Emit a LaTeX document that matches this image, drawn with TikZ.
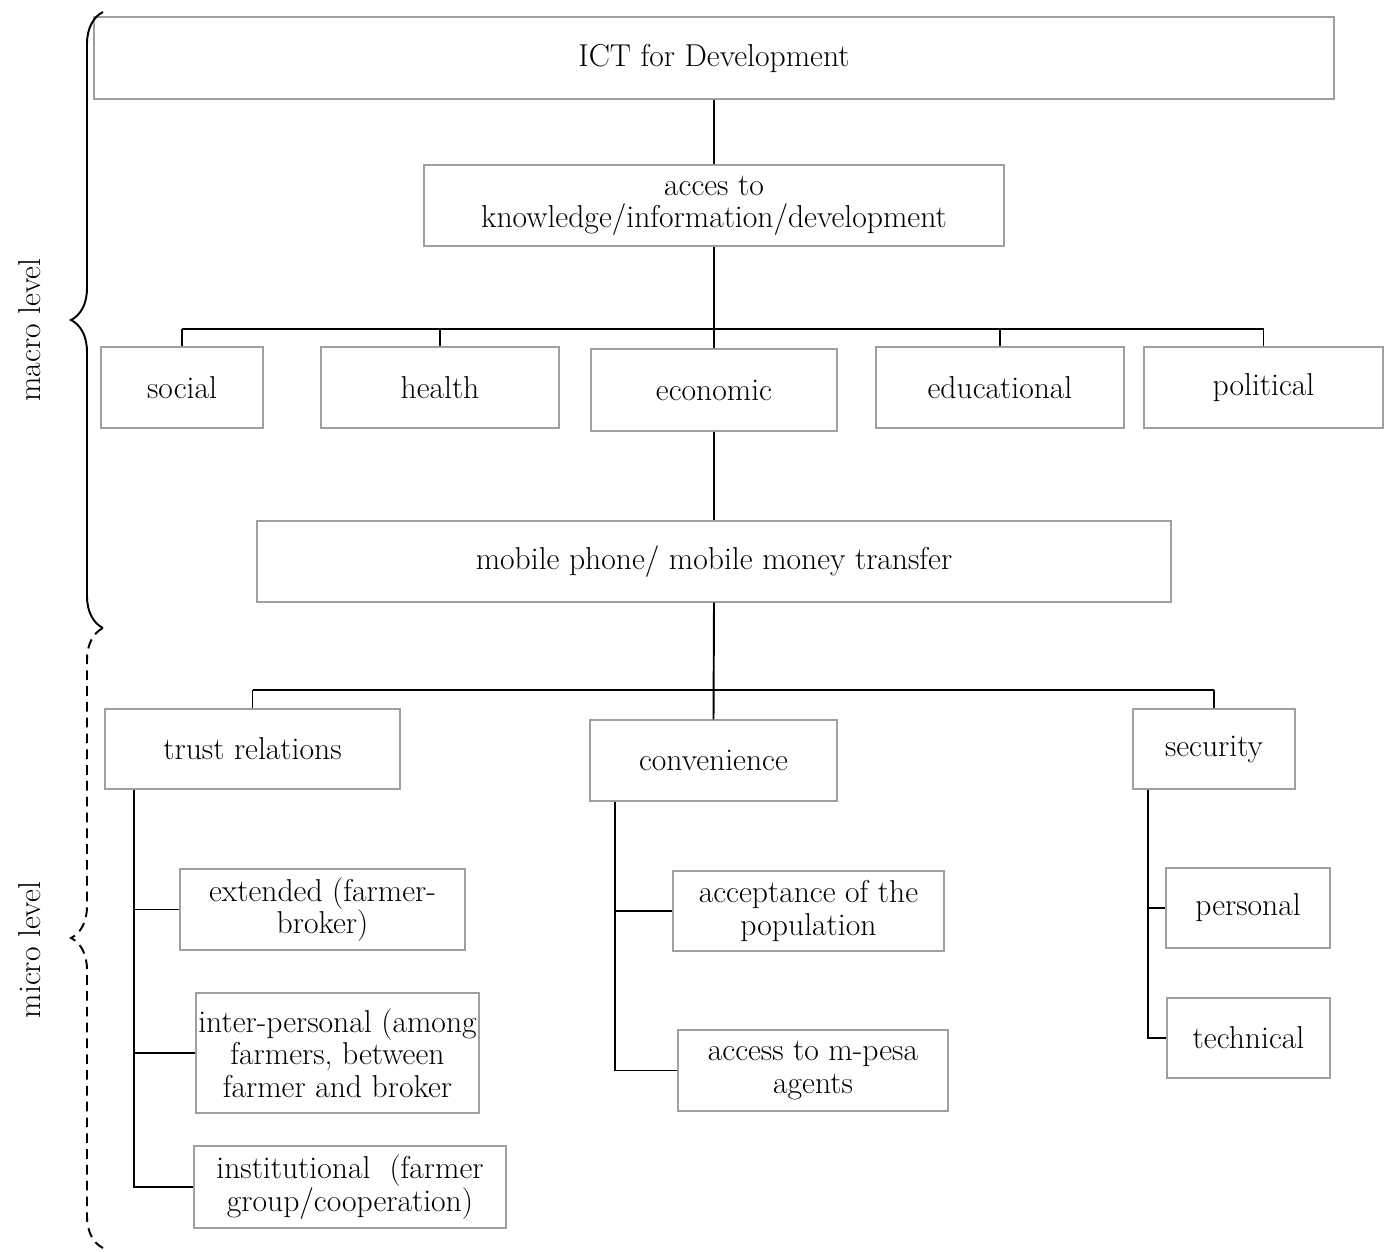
\documentclass[tikz,border=0pt]{standalone}
\usepackage{tikz}
\usetikzlibrary{decorations.pathreplacing}

\begin{document}
\begin{tikzpicture}[x=0.02cm, y=-0.02cm,
		box/.style={draw=gray!75, line width=0.8pt, align=center, inner sep=0pt,
			font=\fontsize{18}{18.5}\selectfont},
		link/.style={black, line width=1.1pt},
		lvl/.style={font=\fontsize{18}{18.5}\selectfont, rotate=90}]
		
		% Page frame
		\useasboundingbox (0,0) rectangle (1386,1251);
		
		% Top of the tree
		\node[box, minimum width=24.8cm, minimum height=1.64cm] (ict) at (714,58) {ICT for Development};
		\node[box, minimum width=11.6cm, minimum height=1.62cm] (acces) at (714,205.5) {acces to\\knowledge/information/development};
		
		% Domains
		\node[box, minimum width=3.24cm, minimum height=1.62cm] (social) at (182,387.5) {social};
		\node[box, minimum width=4.76cm, minimum height=1.62cm] (health) at (440,387.5) {health};
		\node[box, minimum width=4.92cm, minimum height=1.64cm] (economic) at (714,390) {economic};
		\node[box, minimum width=4.96cm, minimum height=1.62cm] (educational) at (1000,387.5) {educational};
		\node[box, minimum width=4.78cm, minimum height=1.62cm] (political) at (1263.5,387.5) {political};
		
		% Mobile money
		\node[box, minimum width=18.28cm, minimum height=1.62cm] (mobile) at (714,561.5) {mobile phone/ mobile money transfer};
		
		% Factors
		\node[box, minimum width=5.9cm, minimum height=1.6cm] (trust) at (252.5,749) {trust relations};
		\node[box, minimum width=4.94cm, minimum height=1.62cm] (convenience) at (713.5,760.5) {convenience};
		\node[box, minimum width=3.24cm, minimum height=1.6cm] (security) at (1214,749) {security};
		
		% Trust relations
		\node[box, minimum width=5.7cm, minimum height=1.62cm] (extended) at (322.5,909.5) {extended (farmer-\\broker)};
		\node[box, minimum width=5.66cm, minimum height=2.4cm] (interpersonal) at (337.5,1053) {inter-personal (among\\farmers, between\\farmer and broker};
		\node[box, minimum width=6.24cm, minimum height=1.64cm] (institutional) at (350,1187) {institutional~~(farmer\\group/cooperation)};
		
		% Convenience
		\node[box, minimum width=5.42cm, minimum height=1.6cm] (acceptance) at (808.5,911) {acceptance of the\\population};
		\node[box, minimum width=5.4cm, minimum height=1.62cm] (mpesa) at (813,1070.5) {access to m-pesa\\agents};
		
		% Security
		\node[box, minimum width=3.28cm, minimum height=1.6cm] (personal) at (1248,908) {personal};
		\node[box, minimum width=3.26cm, minimum height=1.6cm] (technical) at (1248.5,1038) {technical};
		
		% Connectors, upper part
		\coordinate (busA) at (714,329);
		\draw[link] (ict.south) -- (acces.north);
		\draw[link] (acces.south) -- (economic.north);
		\draw[link] (social.north |- busA) -- (political.north |- busA);
		\foreach \n in {social, health, educational, political}
			\draw[link] (\n.north) -- (\n.north |- busA);
		\draw[link] (economic.south) -- (mobile.north);
		
		% Connectors, lower part
		\coordinate (busB) at (713,690);
		\draw[link] (mobile.south) -- (convenience.north);
		\draw[link] (trust.north |- busB) -- (security.north |- busB);
		\draw[link] (trust.north) -- (trust.north |- busB);
		\draw[link] (security.north) -- (security.north |- busB);
		
		% Branches
		\coordinate (trunkT) at (134,0);
		\coordinate (trunkC) at (615,0);
		\coordinate (trunkS) at (1148,0);
		\draw[link] (trunkT |- trust.south) |- (institutional.west);
		\draw[link] (trunkT |- extended.west) -- (extended.west);
		\draw[link] (trunkT |- interpersonal.west) -- (interpersonal.west);
		\draw[link] (trunkC |- convenience.south) |- (mpesa.west);
		\draw[link] (trunkC |- acceptance.west) -- (acceptance.west);
		\draw[link] (trunkS |- security.south) |- (technical.west);
		\draw[link] (trunkS |- personal.west) -- (personal.west);
		
		% Levels
		\coordinate (macroTop) at (103,12);
		\coordinate (macroBot) at (103,628);
		\coordinate (microBot) at (103,1248);
		\draw[line width=1.1pt, decorate, decoration={brace, amplitude=0.64cm}] (macroBot) -- (macroTop);
		\draw[line width=1.1pt, dash pattern=on 5.5pt off 3.5pt, decorate, decoration={brace, amplitude=0.64cm}] (microBot) -- (macroBot);
		\node[lvl] (macro) at (30,330) {macro level};
		\node[lvl] (micro) at (30,950) {micro level};
		
	\end{tikzpicture}
\end{document}
